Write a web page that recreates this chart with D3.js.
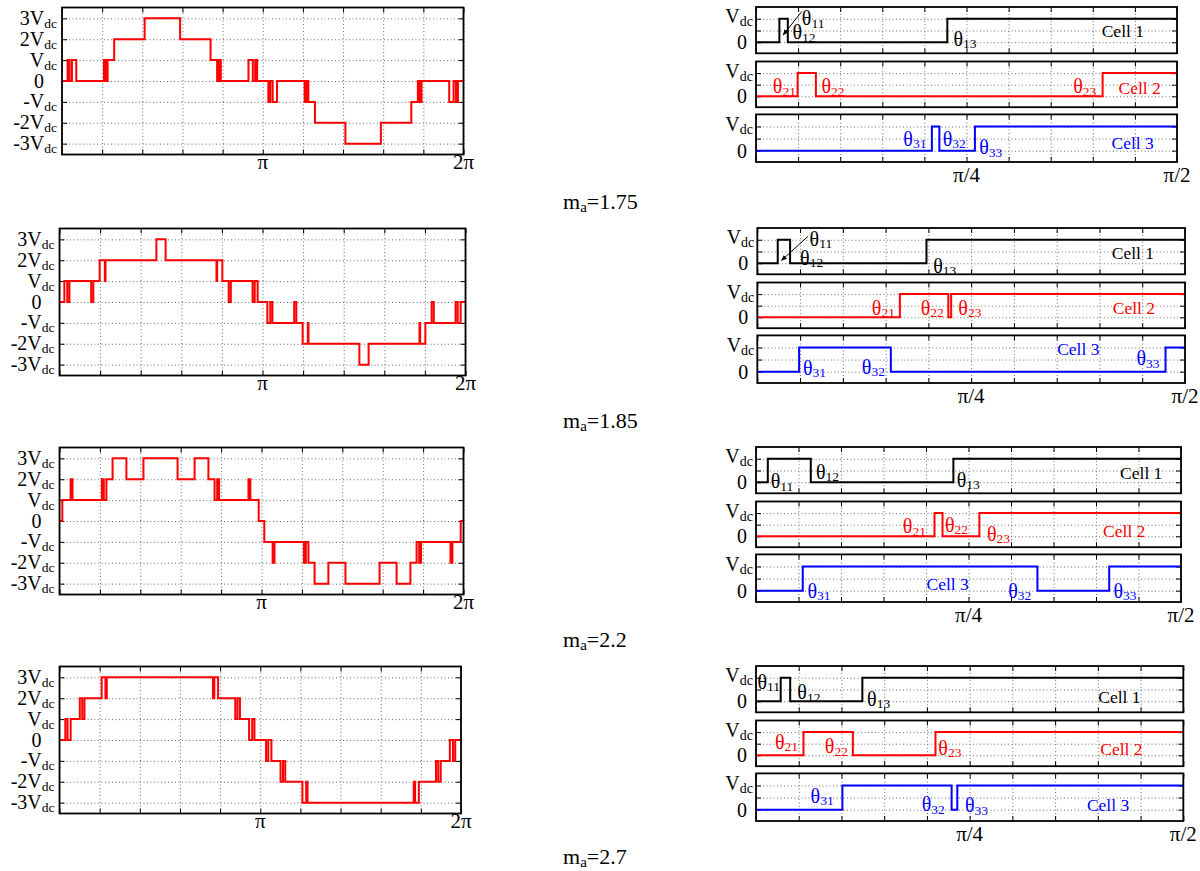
<!DOCTYPE html>
<html>
<head>
<meta charset="utf-8">
<script src="https://cdn.jsdelivr.net/npm/d3@7"></script>
<style>
  body { margin: 0; background: #fff; }
  svg { font-family: "Liberation Serif", "Times New Roman", serif; }
  .grid line { stroke: #6e6e6e; stroke-width: 1; stroke-dasharray: 1,2.5; }
  .grid path, .ticks path { display: none; }
  .ticks line { stroke: #000; stroke-width: 1; }
  .frame { fill: none; stroke: #000; stroke-width: 1.8; }
</style>
</head>
<body>
<svg id="fig" width="1200" height="871"></svg>
<script>
// ---- data (angles in degrees) ----
var maValues = ['1.75', '1.85', '2.2', '2.7'];

// switching angles of each cell in the first quarter (0..90 deg): [theta_k1, theta_k2, theta_k3]
var cell1Angles = [[5.0, 6.8, 40.9], [4.3, 6.9, 35.6], [2.5, 11.6, 41.8], [5.2, 7.2, 22.4]];
var cell2Angles = [[8.9, 12.8, 74.1], [30.0, 40.2, 40.8], [37.8, 39.5, 47.3], [10.0, 20.4, 37.8]];
var cell3Angles = [[37.6, 39.2, 46.8], [8.8, 28.1, 85.9], [9.9, 59.6, 74.8], [18.2, 41.2, 42.4]];

// output voltage over one period: [angle where level starts, level in Vdc]
var stepsMa175 = [[0,0],[5.0,1],[6.8,0],[8.9,1],[12.8,0],[37.6,1],[39.2,0],[40.9,1],[46.8,2],[74.1,3],
  [105.9,2],[133.2,1],[139.1,0],[140.8,1],[142.4,0],[167.2,1],[171.1,0],[173.2,1],[175.0,0],
  [185.0,-1],[186.8,0],[188.9,-1],[192.8,0],[217.6,-1],[219.2,0],[220.9,-1],[226.8,-2],[254.1,-3],
  [285.9,-2],[313.2,-1],[319.1,0],[320.8,-1],[322.4,0],[347.2,-1],[351.1,0],[353.2,-1],[355.0,0]];
var stepsMa185 = [[0,0],[4.3,1],[6.9,0],[8.8,1],[28.1,0],[30.0,1],[35.6,2],[40.2,1],[40.8,2],[85.9,3],
  [94.1,2],[139.2,1],[139.8,2],[144.4,1],[150.0,0],[151.9,1],[171.2,0],[173.1,1],[175.7,0],
  [184.3,-1],[186.9,0],[188.8,-1],[208.1,0],[210.0,-1],[215.6,-2],[220.2,-1],[220.8,-2],[265.9,-3],
  [274.1,-2],[319.2,-1],[319.8,-2],[324.4,-1],[330.0,0],[331.9,-1],[351.2,0],[353.1,-1],[355.7,0]];
var stepsMa220 = [[0,0],[2.5,1],[9.9,2],[11.6,1],[37.8,2],[39.5,1],[41.8,2],[47.3,3],[59.6,2],[74.8,3],
  [105.2,2],[120.4,3],[132.7,2],[138.2,1],[140.5,2],[142.2,1],[168.4,2],[170.1,1],[177.5,0],
  [182.5,-1],[189.9,-2],[191.6,-1],[217.8,-2],[219.5,-1],[221.8,-2],[227.3,-3],[239.6,-2],[254.8,-3],
  [285.2,-2],[300.4,-3],[312.7,-2],[318.2,-1],[320.5,-2],[322.2,-1],[348.4,-2],[350.1,-1],[357.5,0]];
var stepsMa270 = [[0,0],[5.2,1],[7.2,0],[10.0,1],[18.2,2],[20.4,1],[22.4,2],[37.8,3],[41.2,2],[42.4,3],
  [137.6,2],[138.8,3],[142.2,2],[157.6,1],[159.6,2],[161.8,1],[170.0,0],[172.8,1],[174.8,0],
  [185.2,-1],[187.2,0],[190.0,-1],[198.2,-2],[200.4,-1],[202.4,-2],[217.8,-3],[221.2,-2],[222.4,-3],
  [317.6,-2],[318.8,-3],[322.2,-2],[337.6,-1],[339.6,-2],[341.8,-1],[350.0,0],[352.8,-1],[354.8,0]];
var outputSteps = [stepsMa175, stepsMa185, stepsMa220, stepsMa270];

var levelTicks = [-3, -2, -1, 0, 1, 2, 3];
var levelLabels = ['-3V', '-2V', '-V', '0', 'V', '2V', '3V'];
var periodTicks = [0, 36, 72, 108, 144, 180, 216, 252, 288, 324, 360];
var periodLabels = {180: '\u03c0', 360: '2\u03c0'};
var quarterTicks = [0, 9, 18, 27, 36, 45, 54, 63, 72, 81, 90];
var quarterLabels = {45: '\u03c0/4', 90: '\u03c0/2'};
var cellLevelTicks = [0, 0.5, 1];
var cellNames = ['Cell 1', 'Cell 2', 'Cell 3'];
var cellColors = ['#000000', '#ff0000', '#0000ff'];

// ---- layout ----
var rowTop = [7, 228, 447, 666];
var maBaseline = [209, 428, 647, 864];
var leftX = [[62, 463.5], [59.5, 465.5], [59.5, 463.5], [59.5, 461]];
var rightX = [[756, 1177], [757.3, 1185], [756, 1181], [756, 1183.3]];
var subBands = [[0, 46.3], [54.5, 100.2], [107.4, 155]];

// label anchors in data units [deg, level], per row, per cell
var thetaPos = [
  [[[9.8, 1.03], [7.8, 0.42], [42.2, 0.15]], [[3.6, 0.44], [14.0, 0.44], [67.8, 0.44]], [[31.5, 0.49], [39.9, 0.49], [47.7, 0.14]]],
  [[[11.0, 1.04], [9.0, 0.23], [37.0, -0.1]], [[24.1, 0.41], [34.4, 0.41], [42.3, 0.41]], [[9.6, 0.17], [22.0, 0.21], [79.8, 0.56]]],
  [[[3.1, 0.05], [12.7, 0.44], [42.5, 0.1]], [[31.1, 0.43], [40.0, 0.5], [48.9, 0.1]], [[10.9, 0.0], [53.4, 0.0], [75.7, 0.0]]],
  [[[0.3, 0.82], [8.7, 0.39], [23.4, 0.11]], [[4.0, 0.58], [14.5, 0.38], [38.4, 0.32]], [[11.5, 0.58], [34.9, 0.23], [44.0, 0.18]]]
];
var cellLabelPos = [
  [[73.9, 0.45], [77.5, 0.34], [76.0, 0.3]],
  [[74.6, 0.41], [74.8, 0.38], [63.1, 0.93]],
  [[77.1, 0.38], [73.5, 0.24], [36.1, 0.25]],
  [[72.1, 0.18], [72.5, 0.28], [69.7, 0.18]]
];
var arrowPos = [[[9.8, 1.31], [5.8, 0.31]], [[10.7, 1.15], [5.1, 0.12]], null, null];

var svg = d3.select('#fig');
var stepLine = d3.line().curve(d3.curveStepAfter);

svg.append('defs').append('marker')
  .attr('id', 'arrowhead')
  .attr('viewBox', '0 0 10 10')
  .attr('refX', 9).attr('refY', 5)
  .attr('markerWidth', 6).attr('markerHeight', 6)
  .attr('orient', 'auto')
  .append('path').attr('d', 'M0,1 L10,5 L0,9 z').attr('fill', '#000');

function subText(g, x, y, main, sub, size, subSize, dy, anchor, color) {
  var t = g.append('text')
    .attr('x', x).attr('y', y)
    .attr('font-size', size)
    .attr('text-anchor', anchor)
    .attr('fill', color || '#000');
  t.append('tspan').text(main);
  if (sub) t.append('tspan').attr('font-size', subSize).attr('dy', dy).text(sub);
  return t;
}

function paintFrame(g, x, y, xTicks, yTicks) {
  var xr = x.range(), yr = y.range();
  var x0 = xr[0], x1 = xr[1], yb = yr[0], yt = yr[1];
  g.append('g').attr('class', 'grid').attr('transform', 'translate(0,' + yb + ')')
    .call(d3.axisBottom(x).tickValues(xTicks).tickSize(-(yb - yt)).tickFormat(''));
  g.append('g').attr('class', 'grid').attr('transform', 'translate(' + x0 + ',0)')
    .call(d3.axisLeft(y).tickValues(yTicks).tickSize(-(x1 - x0)).tickFormat(''));
  // inward ticks on all four sides
  g.append('g').attr('class', 'ticks').attr('transform', 'translate(0,' + yb + ')')
    .call(d3.axisBottom(x).tickValues(xTicks).tickSize(-5).tickFormat(''));
  g.append('g').attr('class', 'ticks').attr('transform', 'translate(0,' + yt + ')')
    .call(d3.axisTop(x).tickValues(xTicks).tickSize(-5).tickFormat(''));
  g.append('g').attr('class', 'ticks').attr('transform', 'translate(' + x0 + ',0)')
    .call(d3.axisLeft(y).tickValues(yTicks).tickSize(-5).tickFormat(''));
  g.append('g').attr('class', 'ticks').attr('transform', 'translate(' + x1 + ',0)')
    .call(d3.axisRight(y).tickValues(yTicks).tickSize(-5).tickFormat(''));
}

function addFrameRect(g, x, y) {
  var xr = x.range(), yr = y.range();
  g.append('rect').attr('class', 'frame')
    .attr('x', xr[0]).attr('y', yr[1])
    .attr('width', xr[1] - xr[0]).attr('height', yr[0] - yr[1]);
}

function paintOutput(r) {
  var g = svg.append('g').attr('class', 'output');
  var top = rowTop[r] + 0.5;
  var x = d3.scaleLinear().domain([0, 360]).range(leftX[r]);
  var y = d3.scaleLinear().domain([-3.52, 3.52]).range([top + 147, top]);
  paintFrame(g, x, y, periodTicks, levelTicks);

  var steps = outputSteps[r];
  var pts = steps.concat([[360, steps[steps.length - 1][1]]]);
  g.append('path')
    .attr('d', stepLine(pts.map(function(d) { return [x(d[0]), y(d[1])]; })))
    .attr('fill', 'none').attr('stroke', '#ff0000').attr('stroke-width', 2);
  addFrameRect(g, x, y);

  levelTicks.forEach(function(v, i) {
    if (v === 0) {
      g.append('text').attr('x', x(0) - 23).attr('y', y(0) + 6.8)
        .attr('font-size', 20).attr('text-anchor', 'middle').text('0');
    } else {
      subText(g, x(0) - 5, y(v) + 6.5, levelLabels[i], 'dc', 20, 13.5, 3, 'end');
    }
  });
  Object.keys(periodLabels).forEach(function(k) {
    g.append('text').attr('x', x(+k)).attr('y', y.range()[0] + 14.5)
      .attr('font-size', 21).attr('text-anchor', 'middle').text(periodLabels[k]);
  });
}

function paintCells(r) {
  var g = svg.append('g').attr('class', 'cells');
  var x = d3.scaleLinear().domain([0, 90]).range(rightX[r]);
  var angles = [cell1Angles[r], cell2Angles[r], cell3Angles[r]];
  var lastY;
  angles.forEach(function(a, k) {
    var band = subBands[k];
    var y = d3.scaleLinear().domain([-0.47, 1.5]).range([rowTop[r] + band[1], rowTop[r] + band[0]]);
    lastY = y;
    paintFrame(g, x, y, quarterTicks, cellLevelTicks);
    var pts = [[0, 0], [a[0], 1], [a[1], 0], [a[2], 1], [90, 1]];
    g.append('path')
      .attr('d', stepLine(pts.map(function(d) { return [x(d[0]), y(d[1])]; })))
      .attr('fill', 'none').attr('stroke', cellColors[k]).attr('stroke-width', 2);
    addFrameRect(g, x, y);

    subText(g, x(0) - 3, y(1) + 4.5, 'V', 'dc', 20, 14, 3, 'end');
    g.append('text').attr('x', x(0) - 14).attr('y', y(0) + 7.2)
      .attr('font-size', 20).attr('text-anchor', 'middle').text('0');

    thetaPos[r][k].forEach(function(p, j) {
      subText(g, x(p[0]), y(p[1]) + 7, '\u03b8', String(k + 1) + String(j + 1), 20, 13.5, 2.5, 'start', cellColors[k]);
    });
    var cp = cellLabelPos[r][k];
    g.append('text').attr('x', x(cp[0])).attr('y', y(cp[1]) + 5.8)
      .attr('font-size', 17.5).attr('fill', cellColors[k]).text(cellNames[k]);

    if (k === 0 && arrowPos[r]) {
      var ap = arrowPos[r];
      g.append('line')
        .attr('x1', x(ap[0][0])).attr('y1', y(ap[0][1]))
        .attr('x2', x(ap[1][0])).attr('y2', y(ap[1][1]))
        .attr('stroke', '#000').attr('stroke-width', 1)
        .attr('marker-end', 'url(#arrowhead)');
    }
  });
  Object.keys(quarterLabels).forEach(function(k) {
    g.append('text').attr('x', x(+k)).attr('y', lastY.range()[0] + 20)
      .attr('font-size', 21).attr('text-anchor', 'middle').text(quarterLabels[k]);
  });
}

maValues.forEach(function(m, r) {
  paintOutput(r);
  paintCells(r);
  var t = svg.append('text').attr('x', 563).attr('y', maBaseline[r]).attr('font-size', 22);
  t.append('tspan').text('m');
  t.append('tspan').attr('font-size', 15).attr('dy', 3).text('a');
  t.append('tspan').attr('dy', -3).text('=' + m);
});
</script>
</body>
</html>
